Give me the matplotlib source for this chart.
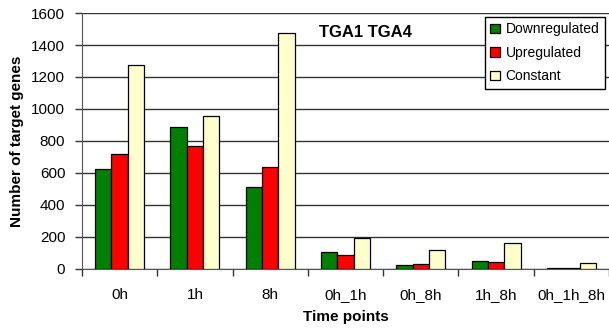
import numpy as np
import matplotlib.pyplot as plt
from matplotlib.ticker import FixedLocator

plt.rcParams['font.family'] = ['Liberation Sans', 'DejaVu Sans']

time_points = ['0h', '1h', '8h', '0h_1h', '0h_8h', '1h_8h', '0h_1h_8h']
downregulated = [627, 886, 512, 104, 21, 50, 3]
upregulated = [715, 771, 634, 86, 27, 40, 3]
constant = [1275, 954, 1475, 192, 117, 158, 34]

series = [('Downregulated', downregulated, '#008000'),
          ('Upregulated', upregulated, '#ff0000'),
          ('Constant', constant, '#ffffcc')]

fig = plt.figure(figsize=(6.09, 3.35), dpi=100)
ax = fig.add_axes([0.1346, 0.198, 0.8654, 0.763])

x = np.arange(len(time_points))
w = 0.217
for i, (name, vals, col) in enumerate(series):
    ax.bar(x + (i - 1) * w, vals, w, color=col, edgecolor='black',
           linewidth=0.9, label=name, zorder=3)

ax.set_xlim(-0.5, len(time_points) - 0.5)
ax.set_ylim(0, 1600)
ax.set_yticks(range(0, 1601, 200))
ax.set_xticks(x)
ax.set_xticklabels(time_points)
ax.xaxis.set_minor_locator(FixedLocator(np.arange(-0.5, len(time_points), 1)))
ax.tick_params(axis='x', which='major', length=0, pad=14, labelsize=11)
ax.tick_params(axis='x', which='minor', length=5, width=1, color='#333333', direction='out')
ax.tick_params(axis='y', length=5, width=1, color='#333333', pad=7, labelsize=11)

ax.grid(axis='y', color='#333333', linewidth=1, zorder=0)
for s in ['top', 'right']:
    ax.spines[s].set_visible(False)
ax.spines['left'].set_color('#555555')
ax.spines['bottom'].set_color('#555555')

ax.set_ylabel('Number of target genes', fontsize=11, fontweight='bold', labelpad=5)
ax.set_xlabel('Time points', fontsize=11, fontweight='bold', labelpad=6)

ax.text(0.45, 0.925, 'TGA1 TGA4', transform=ax.transAxes, fontsize=12,
        fontweight='bold', ha='left', va='center')

leg = ax.legend(loc='upper right', bbox_to_anchor=(0.992, 0.985), fontsize=10,
                frameon=True, fancybox=False, framealpha=1, edgecolor='black',
                handlelength=0.7, handleheight=0.7, handletextpad=0.4,
                borderpad=0.4, labelspacing=0.68, borderaxespad=0)
leg.get_frame().set_linewidth(1)

fig.savefig('out.png', dpi=100)
